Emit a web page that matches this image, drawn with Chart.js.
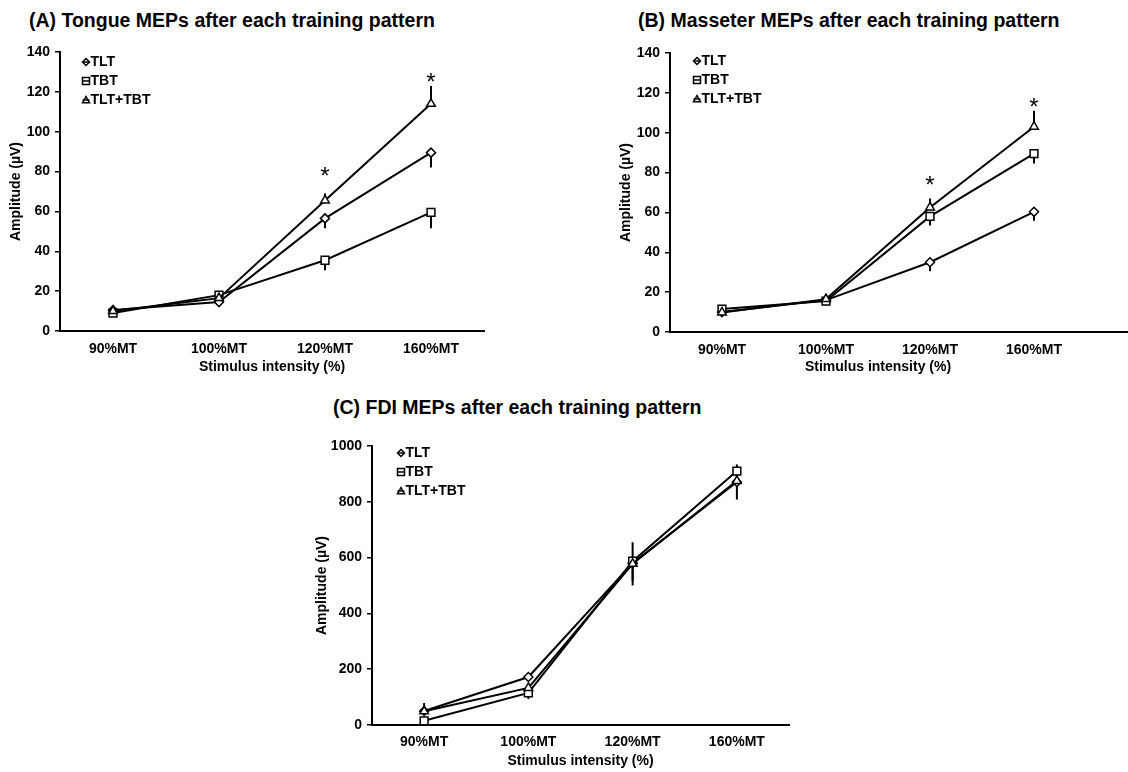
<!DOCTYPE html>
<html>
<head>
<meta charset="utf-8">
<script src="https://cdn.jsdelivr.net/npm/chart.js@4.4.1/dist/chart.umd.min.js"></script>
<style>
  body { margin: 0; background: #fff; width: 1128px; height: 772px; position: relative; overflow: hidden; font-family: "Liberation Sans", Arial, sans-serif; }
  .panel { position: absolute; }
  .ttl { position: absolute; font-weight: bold; font-size: 19.5px; line-height: 22px; white-space: nowrap; color: #000; }
</style>
</head>
<body>
<div class="ttl" style="left:29px; top:9px">(A) Tongue MEPs after each training pattern</div>
<div class="ttl" style="left:638px; top:9px">(B) Masseter MEPs after each training pattern</div>
<div class="ttl" style="left:333px; top:396px">(C) FDI MEPs after each training pattern</div>

<div class="panel" style="left:0; top:0"><canvas id="chartA" width="560" height="385"></canvas></div>
<div class="panel" style="left:560px; top:0"><canvas id="chartB" width="568" height="385"></canvas></div>
<div class="panel" style="left:280px; top:385px"><canvas id="chartC" width="560" height="387"></canvas></div>

<script>
const categories = ['90%MT', '100%MT', '120%MT', '160%MT'];
const seriesNames = ['TLT', 'TBT', 'TLT+TBT'];

// (A) tongue, mean and SE
const tongueTLT = [10.5, 14.5, 56.5, 89.5];
const tongueTBT = [9, 18, 35.5, 59.5];
const tongueBoth = [10, 16.5, 65.5, 114];
const tongueErrTLT = [1, 1.5, 5, 7.5];
const tongueErrTBT = [1, 1.5, 5, 8];
const tongueErrBoth = [1, 1.5, 3.5, 9];
const tongueStars = [null, null, 81, 128];

// (B) masseter
const masseterTLT = [10, 16, 35, 60.3];
const masseterTBT = [11.5, 15.5, 58, 89.5];
const masseterBoth = [9.8, 16.5, 62.5, 103];
const masseterErrTLT = [1, 1, 4.5, 4.5];
const masseterErrTBT = [1, 1, 4.5, 5];
const masseterErrBoth = [1, 1, 4.5, 8];
const masseterStars = [null, null, 77, 116];

// (C) FDI
const fdiTLT = [50, 172, 580, 871];
const fdiTBT = [15, 115, 587, 910];
const fdiBoth = [49, 133, 578, 875];
const fdiErrTLT = [8, 15, 80, 63];
const fdiErrTBT = [5, 22, 70, 40];
const fdiErrBoth = [30, 15, 77, 59];
const fdiStars = [null, null, null, null];

const BOLD = { family: '"Liberation Sans", Arial, sans-serif', weight: 'bold', size: 14 };
const markerStyles = ['rectRot', 'rect', 'triangle'];
const markerRadius = [4.5, 5.5, 5];
const errSide = [-1, -1, 1];   // TLT/TBT bars hang down, TLT+TBT bars point up

function makeSeries(values, errs) {
  return values.map((v, k) => ({
    label: seriesNames[k],
    data: v,
    err: errs[k],
    errDir: errSide[k],
    order: 3 - k,
    borderColor: '#000',
    borderWidth: 2,
    tension: 0,
    pointStyle: markerStyles[k],
    pointRadius: markerRadius[k],
    pointHoverRadius: markerRadius[k],
    pointBackgroundColor: '#fff',
    pointBorderColor: '#000',
    pointBorderWidth: 1.5
  }));
}

// one-sided SE bars, drawn under the lines so markers cover their base
const errorBars = {
  id: 'errorBars',
  beforeDatasetsDraw(chart) {
    const { ctx, scales: { y } } = chart;
    ctx.save();
    ctx.strokeStyle = '#000';
    ctx.lineWidth = 2;
    chart.data.datasets.forEach((ds, i) => {
      const meta = chart.getDatasetMeta(i);
      ds.data.forEach((v, j) => {
        const pt = meta.data[j];
        const end = y.getPixelForValue(v + ds.errDir * ds.err[j]);
        ctx.beginPath();
        ctx.moveTo(pt.x, y.getPixelForValue(v));
        ctx.lineTo(pt.x, end);
        ctx.stroke();
      });
    });
    ctx.restore();
  }
};

// significance asterisks
const stars = {
  id: 'stars',
  afterDatasetsDraw(chart, args, opts) {
    const { ctx, scales: { x, y } } = chart;
    ctx.save();
    ctx.fillStyle = '#000';
    ctx.font = '24px "Liberation Sans", Arial, sans-serif';
    ctx.textAlign = 'center';
    ctx.textBaseline = 'alphabetic';
    (opts.values || []).forEach((v, j) => {
      if (v === null) return;
      ctx.fillText('*', x.getPixelForValue(j), y.getPixelForValue(v) + 14);
    });
    ctx.restore();
  }
};

function drawMarker(ctx, style, cx, cy, r) {
  ctx.beginPath();
  if (style === 'rectRot') {
    ctx.moveTo(cx, cy - r); ctx.lineTo(cx + r, cy); ctx.lineTo(cx, cy + r); ctx.lineTo(cx - r, cy);
  } else if (style === 'rect') {
    ctx.rect(cx - r, cy - r, 2 * r, 2 * r);
  } else {
    ctx.moveTo(cx, cy - r); ctx.lineTo(cx + r, cy + r * 0.8); ctx.lineTo(cx - r, cy + r * 0.8);
  }
  ctx.closePath();
  ctx.fillStyle = '#fff';
  ctx.fill();
  ctx.stroke();
  ctx.beginPath();
  ctx.moveTo(cx - r, cy); ctx.lineTo(cx + r, cy);
  ctx.stroke();
}

// small legend in the top-left corner of the plot area
const cornerLegend = {
  id: 'cornerLegend',
  afterDraw(chart, args, opts) {
    const { ctx, chartArea } = chart;
    ctx.save();
    ctx.strokeStyle = '#000';
    ctx.lineWidth = 1.5;
    ctx.font = 'bold 14px "Liberation Sans", Arial, sans-serif';
    ctx.textBaseline = 'middle';
    chart.data.datasets.forEach((ds, i) => {
      const cx = chartArea.left + opts.dx;
      const cy = chartArea.top + opts.dy + i * opts.gap;
      drawMarker(ctx, ds.pointStyle, cx, cy, 3.5);
      ctx.fillStyle = '#000';
      ctx.fillText(ds.label, cx + 4.5, cy + 0.5);
    });
    ctx.restore();
  }
};

// category axis line running on to the canvas edge
const axisRunout = {
  id: 'axisRunout',
  afterDraw(chart, args, opts) {
    if (!opts.on) return;
    const { ctx, chartArea } = chart;
    ctx.save();
    ctx.strokeStyle = '#000';
    ctx.lineWidth = 2;
    ctx.beginPath();
    ctx.moveTo(chartArea.right, chartArea.bottom);
    ctx.lineTo(chart.width, chartArea.bottom);
    ctx.stroke();
    ctx.restore();
  }
};

function makePanel(id, datasets, p) {
  return new Chart(document.getElementById(id), {
    type: 'line',
    data: { labels: categories, datasets: datasets },
    plugins: [errorBars, stars, cornerLegend, axisRunout],
    options: {
      responsive: false,
      animation: false,
      layout: { padding: p.padding },
      plugins: {
        legend: { display: false },
        tooltip: { enabled: false },
        stars: { values: p.stars },
        cornerLegend: p.legend,
        axisRunout: { on: !!p.runout }
      },
      scales: {
        x: {
          offset: true,
          grid: { display: false, drawTicks: false },
          border: { display: true, color: '#000', width: 2 },
          ticks: { color: '#000', font: BOLD, padding: p.xTickPad, maxRotation: 0 },
          title: { display: true, text: 'Stimulus intensity (%)', color: '#000', font: BOLD, padding: { top: 0, bottom: p.xTitlePad } },
          afterFit(s) { s.height = p.xHeight; }
        },
        y: {
          min: 0,
          max: p.yMax,
          grid: { drawOnChartArea: false, drawTicks: true, tickLength: 5, color: '#000', lineWidth: 1.5 },
          border: { display: true, color: '#000', width: 2 },
          ticks: { stepSize: p.yStep, color: '#000', font: BOLD, padding: 5, callback: (v) => String(v) },
          title: { display: true, text: 'Amplitude (µV)', color: '#000', font: BOLD, padding: { top: 8, bottom: 0 } },
          afterFit(s) { s.width = p.yWidth; }
        }
      }
    }
  });
}

makePanel('chartA',
  makeSeries([tongueTLT, tongueTBT, tongueBoth], [tongueErrTLT, tongueErrTBT, tongueErrBoth]),
  { padding: { left: 0, top: 52, right: 76, bottom: 0 }, yWidth: 60, xHeight: 54, yMax: 140, yStep: 20,
    xTickPad: 10, xTitlePad: 9, stars: tongueStars, legend: { dx: 26, dy: 10, gap: 19 } });

makePanel('chartB',
  makeSeries([masseterTLT, masseterTBT, masseterBoth], [masseterErrTLT, masseterErrTBT, masseterErrBoth]),
  { padding: { left: 50, top: 53, right: 42, bottom: 0 }, yWidth: 60, xHeight: 53, yMax: 140, yStep: 20,
    xTickPad: 10, xTitlePad: 9, stars: masseterStars, legend: { dx: 27, dy: 8, gap: 19 }, runout: true });

makePanel('chartC',
  makeSeries([fdiTLT, fdiTBT, fdiBoth], [fdiErrTLT, fdiErrTBT, fdiErrBoth]),
  { padding: { left: 26, top: 61, right: 51, bottom: 0 }, yWidth: 66, xHeight: 47, yMax: 1000, yStep: 200,
    xTickPad: 9, xTitlePad: 2, stars: fdiStars, legend: { dx: 29, dy: 7, gap: 19 } });
</script>
</body>
</html>
